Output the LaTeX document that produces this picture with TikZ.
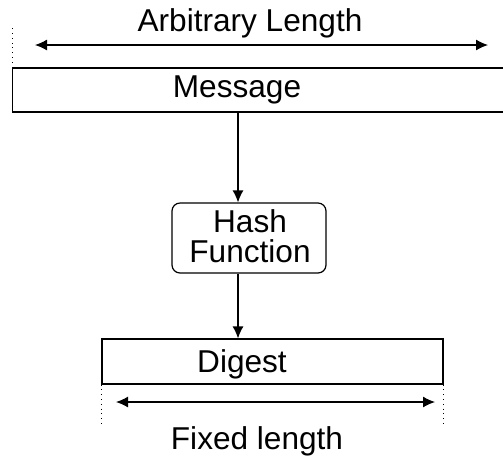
\documentclass[tikz,border=0pt]{standalone}
\usepackage{fontspec}
\setmainfont{Liberation Sans}
\usetikzlibrary{arrows.meta}
\begin{document}
\begin{tikzpicture}[x=0.5pt, y=-0.5pt,
            every node/.style={font=\fontsize{15.8}{15}\selectfont},
            box/.style={draw, rectangle, line width=0.6pt, inner sep=0pt},
            hashbox/.style={box, rounded corners=4pt, align=center},
            flow/.style={draw, line width=0.6pt, -{Latex[length=6pt,width=5.5pt]}},
            span/.style={draw, line width=0.6pt, {Latex[length=6pt,width=5.5pt]}-{Latex[length=6pt,width=5.5pt]}},
            guide/.style={draw, dotted, line width=0.4pt}]
        \useasboundingbox (0,0) rectangle (503,457);
        % boxes
        \node [box, minimum width=251pt, minimum height=22pt] (msgbox) at (263.5,90) {};
        \node (msg) at (237,89.5) {Message};
        \node [hashbox, minimum width=77pt, minimum height=35pt] (hash) at (249,238) {};
        \node [align=center] (hashtxt) at (250,236) {Hash\\Function};
        \node [box, minimum width=170.5pt, minimum height=22.5pt] (digestbox) at (272.5,361.5) {};
        \node (digest) at (242,364) {Digest};
        % flow
        \coordinate (ax) at (238,0);
        \draw [flow] (ax |- msgbox.south) -- (ax |- hash.north);
        \draw [flow] (ax |- hash.south) -- (ax |- digestbox.north);
        % lengths
        \draw [guide] (msgbox.north west) -- ++(0,-40);
        \coordinate (al) at (35,45);
        \coordinate (ar) at (488,45);
        \draw [span] (al) -- (ar);
        \node (arb) at (250,23.5) {Arbitrary Length};
        \draw [guide] (digestbox.south west) -- ++(0,42);
        \draw [guide] (digestbox.south east) -- ++(0,42);
        \coordinate (fl) at (116,402);
        \coordinate (fr) at (435,402);
        \draw [span] (fl) -- (fr);
        \node (fix) at (257,441) {Fixed length};
\end{tikzpicture}
\end{document}
